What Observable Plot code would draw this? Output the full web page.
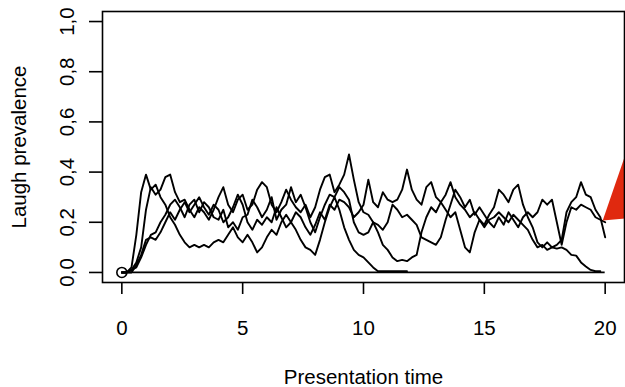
<!DOCTYPE html>
<html>
<head>
<meta charset="utf-8">
<script src="https://cdn.jsdelivr.net/npm/d3@7"></script>
<script src="https://cdn.jsdelivr.net/npm/@observablehq/plot@0.6"></script>
<style>
  html, body { margin: 0; padding: 0; background: #fff; }
  #chart svg { display: block; }
</style>
</head>
<body>
<div id="chart"></div>
<script>
// Laugh prevalence over presentation time, sampled every 0.2 time units.
const step = 0.2;

const seriesA = [
  0, 0, 0.02, 0.15, 0.32, 0.39, 0.33, 0.35, 0.30, 0.27,
  0.22, 0.19, 0.15, 0.12, 0.10, 0.11, 0.10, 0.11, 0.10, 0.12,
  0.13, 0.12, 0.15, 0.18, 0.14, 0.12, 0.15, 0.12, 0.08, 0.10,
  0.14, 0.17, 0.15, 0.20, 0.23, 0.20, 0.17, 0.13, 0.10, 0.09,
  0.07, 0.13, 0.20, 0.26, 0.30, 0.25, 0.18, 0.13, 0.09, 0.07,
  0.06, 0.04, 0.02, 0.005, 0.005, 0.005, 0.005, 0.005, 0.005, 0.005
];

const seriesB = [
  0, 0, 0.01, 0.04, 0.10, 0.25, 0.34, 0.31, 0.33, 0.38,
  0.39, 0.32, 0.28, 0.29, 0.25, 0.22, 0.26, 0.24, 0.21, 0.25,
  0.30, 0.34, 0.27, 0.24, 0.29, 0.31, 0.25, 0.27, 0.33, 0.36,
  0.34, 0.27, 0.24, 0.28, 0.33, 0.29, 0.26, 0.24, 0.27, 0.22,
  0.26, 0.33, 0.38, 0.39, 0.32, 0.35, 0.39, 0.47, 0.37, 0.28,
  0.24, 0.23, 0.20, 0.16, 0.11, 0.09, 0.06, 0.045, 0.05, 0.045,
  0.06, 0.07, 0.16, 0.22, 0.26, 0.24, 0.28, 0.25, 0.22, 0.24,
  0.17, 0.10, 0.08, 0.16, 0.21, 0.18, 0.21, 0.22, 0.24, 0.22,
  0.20, 0.23, 0.21, 0.19, 0.17, 0.13, 0.10, 0.11, 0.09, 0.10,
  0.095, 0.10, 0.09, 0.07, 0.067, 0.04, 0.024, 0.01, 0.005, 0.005
];

const seriesC = [
  0, 0, 0, 0.03, 0.07, 0.13, 0.14, 0.13, 0.16, 0.20,
  0.24, 0.21, 0.25, 0.28, 0.24, 0.27, 0.30, 0.26, 0.23, 0.27,
  0.25, 0.20, 0.22, 0.26, 0.31, 0.27, 0.20, 0.17, 0.21, 0.19,
  0.22, 0.20, 0.26, 0.22, 0.18, 0.20, 0.24, 0.22, 0.18, 0.15,
  0.19, 0.24, 0.21, 0.27, 0.25, 0.29, 0.28, 0.26, 0.22, 0.24,
  0.27, 0.37, 0.28, 0.26, 0.32, 0.29, 0.28, 0.29, 0.33, 0.41,
  0.33, 0.29, 0.27, 0.34, 0.36, 0.30, 0.28, 0.31, 0.36, 0.30,
  0.27, 0.25, 0.22, 0.24, 0.21, 0.19, 0.23, 0.26, 0.33, 0.31,
  0.28, 0.33, 0.35, 0.27, 0.22, 0.18, 0.12, 0.10, 0.12, 0.10,
  0.11, 0.13, 0.24, 0.28, 0.30, 0.36, 0.31, 0.30, 0.25, 0.22,
  0.14
];

const seriesD = [
  0, 0, 0.01, 0.02, 0.06, 0.11, 0.15, 0.16, 0.20, 0.23,
  0.27, 0.29, 0.26, 0.22, 0.27, 0.29, 0.24, 0.28, 0.26, 0.22,
  0.21, 0.25, 0.18, 0.20, 0.17, 0.22, 0.23, 0.29, 0.26, 0.22,
  0.25, 0.30, 0.21, 0.25, 0.27, 0.34, 0.28, 0.31, 0.26, 0.20,
  0.16, 0.22, 0.27, 0.31, 0.30, 0.34, 0.32, 0.29, 0.20, 0.16,
  0.15, 0.16, 0.20, 0.19, 0.17, 0.20, 0.27, 0.25, 0.22, 0.23,
  0.21, 0.19, 0.14, 0.13, 0.12, 0.11, 0.14, 0.21, 0.27, 0.33,
  0.30, 0.26, 0.29, 0.23, 0.26, 0.23, 0.20, 0.18, 0.22, 0.19,
  0.24, 0.21, 0.18, 0.22, 0.24, 0.22, 0.24, 0.29, 0.27, 0.29,
  0.20, 0.11, 0.20, 0.26, 0.25, 0.27, 0.26, 0.25, 0.22, 0.21,
  0.20
];

// Group with no laughter at all, and the start marker
const silentGroup = { from: 0, to: 20, level: 0 };
const origin = { t: 0, v: 0 };

// Red pointer at the end of the traces
const pointerT = [19.92, 21.0];
const pointerLow = [0.205, 0.215];
const pointerHigh = [0.205, 0.508];

const xTicks = [0, 5, 10, 15, 20];
const yTicks = [0, 0.2, 0.4, 0.6, 0.8, 1.0];
const yTickLabels = ["0,0", "0,2", "0,4", "0,6", "0,8", "1,0"];

const rows = [];
for (const [name, values] of [["A", seriesA], ["B", seriesB], ["C", seriesC], ["D", seriesD]]) {
  values.forEach((v, i) => rows.push({ series: name, t: +(i * step).toFixed(1), v }));
}
const pointer = pointerT.map((t, i) => ({ t, lo: pointerLow[i], hi: pointerHigh[i] }));

const font = "'Liberation Sans', Arial, Helvetica, sans-serif";
const fs = 20.5;

const chart = Plot.plot({
  width: 625,
  height: 387,
  marginLeft: 102,
  marginRight: 1,
  marginTop: 11,
  marginBottom: 105,
  x: { domain: [-0.8, 20.8] },
  y: { domain: [-0.04, 1.04] },
  style: { fontFamily: font, fontSize: fs + "px", color: "#000", background: "#fff" },
  marks: [
    Plot.axisX({ ticks: xTicks, tickSize: 12, tickFormat: () => "", label: null, strokeWidth: 1.6 }),
    Plot.axisY({ ticks: yTicks, tickSize: 13, tickFormat: () => "", label: null, strokeWidth: 1.6 }),
    Plot.text(xTicks, { x: d => d, text: d => String(d), frameAnchor: "bottom", dy: 52, lineAnchor: "bottom", fontSize: fs }),
    Plot.text(yTicks, { y: d => d, text: (d, i) => yTickLabels[i], frameAnchor: "left", dx: -29, rotate: -90, textAnchor: "middle", lineAnchor: "bottom", fontSize: fs }),
    Plot.text(["Presentation time"], { frameAnchor: "bottom", dy: 101, lineAnchor: "bottom", fontSize: fs }),
    Plot.text(["Laugh prevalence"], { frameAnchor: "left", dx: -77, rotate: -90, textAnchor: "middle", lineAnchor: "bottom", fontSize: fs }),
    Plot.ruleY([silentGroup.level], { x1: silentGroup.from, x2: silentGroup.to, stroke: "#000", strokeWidth: 1.8 }),
    Plot.line(rows, { x: "t", y: "v", z: "series", stroke: "#000", strokeWidth: 1.9, strokeLinejoin: "round" }),
    Plot.dot([origin], { x: "t", y: "v", r: 5, stroke: "#000", strokeWidth: 1.6, fill: "none" }),
    Plot.areaY(pointer, { x: "t", y1: "lo", y2: "hi", fill: "#e0290f", curve: "linear" }),
    Plot.frame({ stroke: "#000", strokeWidth: 1.6 })
  ]
});

document.getElementById("chart").appendChild(chart);
</script>
</body>
</html>
